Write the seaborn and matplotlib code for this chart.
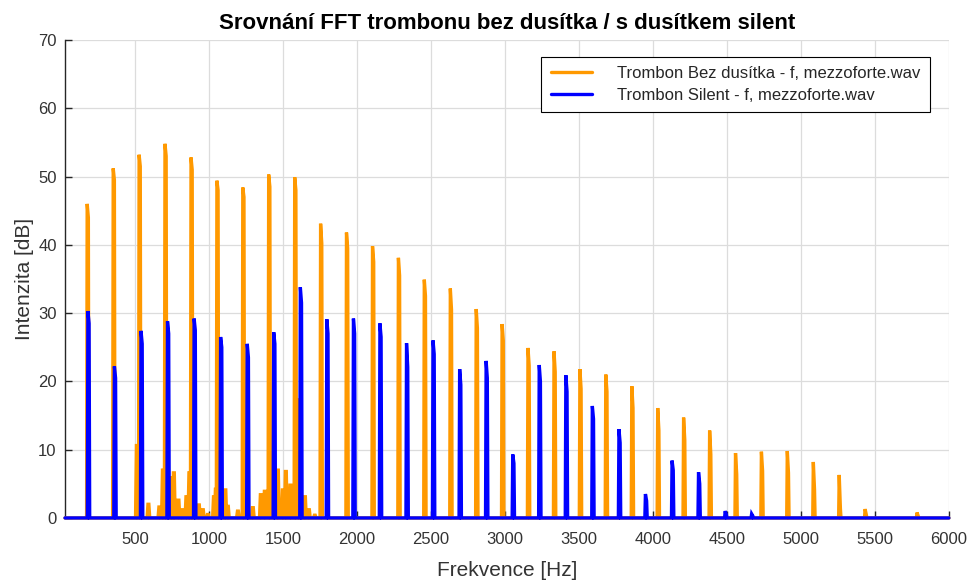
import numpy as np
import pandas as pd
import matplotlib
matplotlib.use('Agg')
import matplotlib.pyplot as plt
import seaborn as sns

# Harmonic peaks (Hz, dB)
open_hz = [175, 351, 526, 701, 877, 1052, 1227, 1402, 1578, 1753, 1928, 2104, 2279, 2454,
           2630, 2805, 2980, 3155, 3331, 3506, 3681, 3857, 4032, 4207, 4383, 4558, 4733,
           4908, 5084, 5259, 5434, 5785]
open_db = [46.0, 51.2, 53.2, 54.8, 52.8, 49.4, 48.4, 50.3, 49.9, 43.1, 41.8, 39.8, 38.1, 34.9,
           33.6, 30.6, 28.4, 24.9, 24.4, 21.8, 21.0, 19.3, 16.1, 14.7, 12.8, 9.5, 9.7,
           9.8, 8.2, 6.3, 1.3, 0.8]
# level of the neighbouring FFT bin just right of each peak
open_next_db = [44.0, 49.5, 51.5, 53.0, 51.0, 48.0, 47.0, 48.5, 48.0, 40.2, 39.5, 37.5, 35.5, 32.5,
                30.5, 27.8, 26.0, 22.3, 21.4, 18.9, 18.5, 16.1, 12.8, 11.4, 9.3, 6.4, 6.9,
                6.6, 4.2, 1.4, 0.5, 0.3]

# low level noise between the lower harmonics of the open trombone
noise_hz = [511, 589, 663, 687, 748, 761, 792, 815, 846, 866, 930, 957, 991, 1032, 1045,
            1109, 1126, 1194, 1295, 1349, 1376, 1464, 1498, 1518, 1549, 1605, 1647, 1674, 1714]
noise_db = [10.6, 2.0, 1.6, 7.0, 5.9, 6.6, 2.6, 1.2, 3.1, 6.6, 1.9, 1.2, 0.5, 3.1, 4.2,
            4.1, 1.7, 1.0, 1.5, 3.4, 3.9, 7.0, 4.1, 6.8, 4.8, 17.3, 3.1, 1.2, 0.4]

silent_hz = [180, 359, 539, 718, 898, 1077, 1257, 1436, 1616, 1795, 1975, 2154, 2334, 2513,
             2693, 2872, 3052, 3231, 3411, 3590, 3770, 3949, 4129, 4308, 4488, 4667]
silent_db = [30.3, 22.2, 27.4, 28.8, 29.2, 26.5, 25.5, 27.2, 33.8, 29.1, 29.2, 28.5, 25.6, 26.0,
             21.8, 23.0, 9.3, 22.4, 20.9, 16.4, 13.0, 3.5, 8.4, 6.7, 1.0, 0.6]
silent_next_db = [28.5, 20.5, 25.5, 27.0, 27.5, 25.0, 23.5, 25.5, 31.5, 27.0, 27.0, 26.5, 22.1, 24.0,
                  19.5, 20.5, 8.0, 20.0, 18.5, 14.5, 11.0, 2.5, 7.0, 5.0, 0.5, 0.3]

labels = ['Trombon Bez dusítka - f, mezzoforte.wav', 'Trombon Silent - f, mezzoforte.wav']
colors = ['#FF9900', '#0000FF']

FREQ_MIN, FREQ_MAX = 25, 6000
BIN_HZ = 8      # spacing to the neighbouring bin
HALF_W = 4
NOISE_W = 9


def spectrum(hz, db, next_db=None):
    # turn the peak list into a spiky line that goes back to 0 dB between bins
    order = np.argsort(hz)
    fx, fy = [FREQ_MIN], [0.0]
    for i in order:
        f, a = hz[i], db[i]
        nxt = None if next_db is None else next_db[i]
        if nxt is None:
            # broad noise bump
            fx += [f - NOISE_W, f - NOISE_W / 3, f + NOISE_W / 3, f + NOISE_W]
            fy += [0.0, a, a, 0.0]
        else:
            fx += [f - HALF_W, f, f + BIN_HZ, f + BIN_HZ + HALF_W]
            fy += [0.0, a, nxt, 0.0]
    fx.append(FREQ_MAX)
    fy.append(0.0)
    return pd.DataFrame({'Frekvence': fx, 'Intenzita': fy})


df_open = spectrum(open_hz + noise_hz, open_db + noise_db,
                   open_next_db + [None] * len(noise_hz))
df_silent = spectrum(silent_hz, silent_db, silent_next_db)

sns.set_theme(style='ticks')
plt.rcParams['font.family'] = ['Liberation Sans', 'DejaVu Sans']

fig = plt.figure(figsize=(9.67, 5.8), dpi=100)
ax = fig.add_axes([0.0672, 0.107, 0.914, 0.824])

sns.lineplot(data=df_open, x='Frekvence', y='Intenzita', sort=False, estimator=None,
             color=colors[0], linewidth=2.4, label=labels[0], ax=ax)
sns.lineplot(data=df_silent, x='Frekvence', y='Intenzita', sort=False, estimator=None,
             color=colors[1], linewidth=2.4, label=labels[1], ax=ax)
for ln in ax.lines:
    ln.set_zorder(3)
    ln.set_clip_on(False)
    ln.set_solid_joinstyle('miter')

ax.set_xlim(FREQ_MIN, FREQ_MAX)
ax.set_ylim(0, 70)
ax.set_xticks(np.arange(500, 6001, 500))
ax.set_yticks(np.arange(0, 71, 10))
ax.grid(True, color='#dcdcdc', linewidth=0.9)
ax.set_axisbelow(True)
sns.despine(ax=ax)
for s in ['left', 'bottom']:
    ax.spines[s].set_color('#262626')
    ax.spines[s].set_linewidth(1.0)
ax.tick_params(direction='in', length=5, width=1, colors='#262626', labelsize=12,
               labelcolor='#333333')
ax.tick_params(axis='x', pad=10)
ax.tick_params(axis='y', pad=6)

ax.set_title('Srovnání FFT trombonu bez dusítka / s dusítkem silent',
             fontsize=16, fontweight='bold', pad=8, color='black')
ax.set_xlabel('Frekvence [Hz]', fontsize=15, color='#333333', labelpad=10)
ax.set_ylabel('Intenzita [dB]', fontsize=15, color='#333333', labelpad=3)

leg = ax.legend(loc='upper right', bbox_to_anchor=(0.9785, 0.965), borderaxespad=0,
                fontsize=12, frameon=True, fancybox=False, framealpha=1, edgecolor='black',
                handlelength=2.5, handletextpad=1.5, labelspacing=0.4, borderpad=0.55)
leg.get_frame().set_linewidth(0.8)
leg.set_zorder(5)

plt.savefig('out.png', dpi=100)
